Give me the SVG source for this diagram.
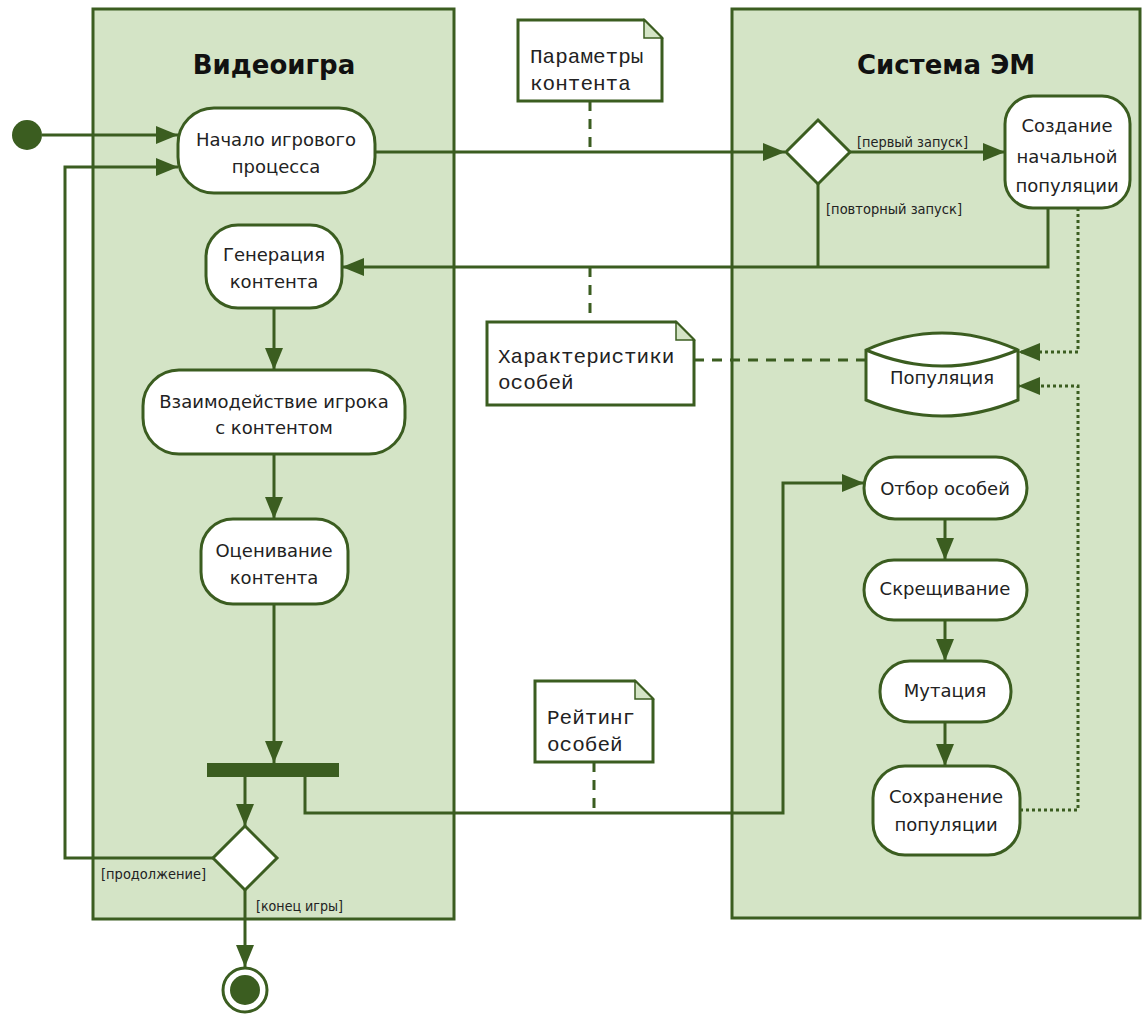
<svg xmlns="http://www.w3.org/2000/svg" width="1142" height="1015" viewBox="0 0 1142 1015">
<defs>
<marker id="ah" viewBox="0 0 22 18" refX="22" refY="9" markerWidth="22" markerHeight="18" markerUnits="userSpaceOnUse" orient="auto"><path d="M0,0 L22,9 L0,18 z" fill="#3b5d20"/></marker>
</defs>
<style>
.lane{fill:#d4e4c6;stroke:#3b5d20;stroke-width:3}
.act{fill:#fff;stroke:#3b5d20;stroke-width:3}
.note{fill:#fff;stroke:#3b5d20;stroke-width:3}
.fold{fill:#d4e4c6;stroke:#3b5d20;stroke-width:1.5}
.t{font-family:"DejaVu Sans",sans-serif;font-size:18px;fill:#222;text-anchor:middle}
.title{font-family:"DejaVu Sans",sans-serif;font-size:26px;font-weight:bold;fill:#111;text-anchor:middle}
.g{font-family:"DejaVu Sans Condensed","DejaVu Sans",sans-serif;font-size:13.5px;fill:#222}
.n{font-family:"Liberation Mono","Courier New",monospace;font-size:21px;fill:#222}
.ln{fill:none;stroke:#3b5d20;stroke-width:3}
.arr{fill:none;stroke:#3b5d20;stroke-width:3;marker-end:url(#ah)}
.dash{fill:none;stroke:#3b5d20;stroke-width:3;stroke-dasharray:10 8}
.dotarr{fill:none;stroke:#3b5d20;stroke-width:3;stroke-dasharray:3 3;marker-end:url(#ah)}
.solid{fill:#3b5d20}
</style>
<g id="lane-game"><rect class="lane" x="93" y="9" width="361" height="910"/><text class="title" x="274" y="74">Видеоигра</text></g>
<g id="lane-em"><rect class="lane" x="732" y="9" width="408" height="909"/><text class="title" x="946" y="74">Система ЭМ</text></g>
<g id="connectors">
<path class="arr" d="M42,135 H178"/>
<path class="arr" d="M213,858 H65 V167 H178"/>
<path class="arr" d="M375,152 H785"/>
<path class="arr" d="M850,152 H1005"/>
<path class="arr" d="M1048,208 V267 H342"/>
<path class="ln" d="M818,184 V267"/>
<path class="arr" d="M274,308 V370"/>
<path class="arr" d="M274,454 V519"/>
<path class="arr" d="M274,604 V763"/>
<path class="arr" d="M245,777 V826"/>
<path class="arr" d="M245,890 V967"/>
<path class="arr" d="M305,777 V813 H783 V483 H864"/>
<path class="arr" d="M945,519 V560"/>
<path class="arr" d="M945,620 V661"/>
<path class="arr" d="M945,722 V766"/>
<path class="dotarr" d="M1078,208 V352 H1018"/>
<path class="dotarr" d="M1020,810 H1078 V386 H1018"/>
<path class="dash" d="M590,101 V152"/>
<path class="dash" d="M590,267 V322"/>
<path class="dash" d="M694,360 H866"/>
<path class="dash" d="M594,762 V813"/>
<text class="g" x="857" y="147" textLength="111" lengthAdjust="spacingAndGlyphs">[первый запуск]</text>
<text class="g" x="826" y="214" textLength="136" lengthAdjust="spacingAndGlyphs">[повторный запуск]</text>
<text class="g" x="101" y="879" textLength="105" lengthAdjust="spacingAndGlyphs">[продолжение]</text>
<text class="g" x="256" y="911" textLength="87" lengthAdjust="spacingAndGlyphs">[конец игры]</text>
</g>
<g id="start"><circle class="solid" cx="27" cy="135" r="15"/></g>
<g id="n-start"><rect class="act" x="178" y="108" width="197" height="85" rx="36"/><text class="t" x="276" y="146">Начало игрового</text><text class="t" x="276" y="173">процесса</text></g>
<g id="n-gen"><rect class="act" x="206" y="225" width="136" height="83" rx="32"/><text class="t" x="274" y="261">Генерация</text><text class="t" x="274" y="288">контента</text></g>
<g id="n-inter"><rect class="act" x="143" y="370" width="262" height="84" rx="36"/><text class="t" x="274" y="408">Взаимодействие игрока</text><text class="t" x="274" y="434">с контентом</text></g>
<g id="n-eval"><rect class="act" x="201" y="519" width="147" height="85" rx="32"/><text class="t" x="274" y="557">Оценивание</text><text class="t" x="274" y="584">контента</text></g>
<g id="fork"><rect class="solid" x="207" y="763" width="132" height="14"/></g>
<g id="dec-end"><polygon class="act" points="245,826 277,858 245,890 213,858"/></g>
<g id="final"><circle cx="245" cy="990" r="22" fill="#fff" stroke="#3b5d20" stroke-width="3"/><circle class="solid" cx="245" cy="990" r="15"/></g>
<g id="dec-run"><polygon class="act" points="818,120 850,152 818,184 786,152"/></g>
<g id="n-create"><rect class="act" x="1005" y="96" width="125" height="112" rx="28"/><text class="t" x="1067" y="132">Создание</text><text class="t" x="1067" y="163">начальной</text><text class="t" x="1067" y="192">популяции</text></g>
<g id="n-pop"><path class="act" d="M866,350 Q942,316 1018,350 L1018,400 Q942,432 866,400 Z"/><path class="ln" d="M866,350 Q942,382 1018,350"/><text class="t" x="942" y="384">Популяция</text></g>
<g id="n-sel"><rect class="act" x="864" y="457" width="163" height="62" rx="31"/><text class="t" x="945" y="495">Отбор особей</text></g>
<g id="n-cross"><rect class="act" x="864" y="560" width="163" height="60" rx="30"/><text class="t" x="945" y="595">Скрещивание</text></g>
<g id="n-mut"><rect class="act" x="880" y="661" width="131" height="61" rx="30"/><text class="t" x="945" y="697">Мутация</text></g>
<g id="n-save"><rect class="act" x="873" y="766" width="147" height="89" rx="32"/><text class="t" x="946" y="803">Сохранение</text><text class="t" x="946" y="831">популяции</text></g>
<g id="note-params"><path class="note" d="M518,20 H644 L662,38 V101 H518 Z"/><path class="fold" d="M644,20 V38 H662 Z"/><text class="n" x="530" y="63">Параметры</text><text class="n" x="530" y="90">контента</text></g>
<g id="note-traits"><path class="note" d="M487,322 H676 L694,340 V405 H487 Z"/><path class="fold" d="M676,322 V340 H694 Z"/><text class="n" x="498" y="363">Характеристики</text><text class="n" x="498" y="389">особей</text></g>
<g id="note-rating"><path class="note" d="M535,681 H635 L653,699 V762 H535 Z"/><path class="fold" d="M635,681 V699 H653 Z"/><text class="n" x="547" y="724">Рейтинг</text><text class="n" x="547" y="751">особей</text></g>
</svg>
